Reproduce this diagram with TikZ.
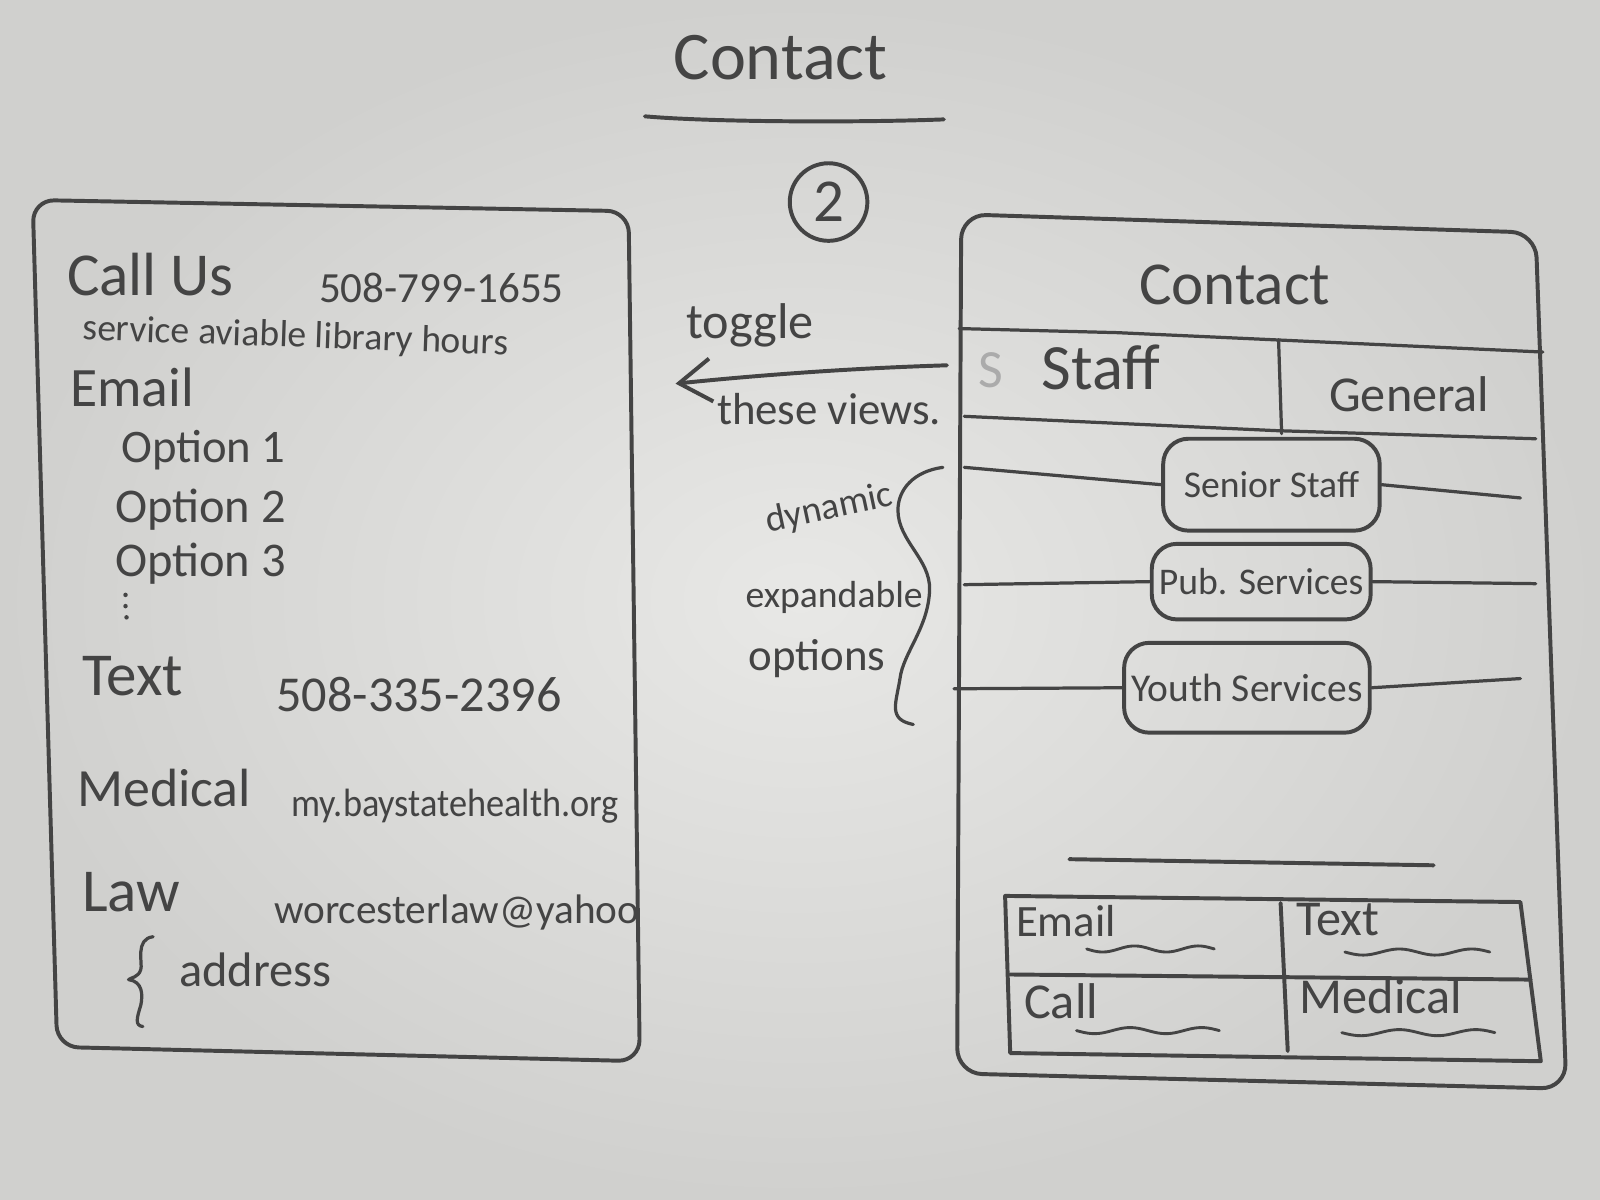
\documentclass[tikz,border=0pt]{standalone}
\usepackage{fontspec}
\setmainfont{Carlito}
\usetikzlibrary{arrows.meta}
\definecolor{penc}{HTML}{444444}
\definecolor{paperlight}{HTML}{E8E8E6}
\definecolor{paperdark}{HTML}{D0D0CE}
\definecolor{faint}{HTML}{ABABAB}
\newcommand\fs[1]{\fontsize{#1}{#1}\selectfont}
\tikzset{
  pen/.style={draw=penc, line width=1.1pt, line cap=round, line join=round},
  hw/.style={text=penc, inner sep=0pt, anchor=base west},
  pill/.style={pen, rounded corners=7pt, minimum height=0.8cm, inner sep=2pt, text=penc, font=\fs{10.5}},
}
\begin{document}
\begin{tikzpicture}[x=0.01cm,y=-0.01cm]
\useasboundingbox (0,0) rectangle (1568,1176);
\shade[inner color=paperlight, outer color=paperdark] (0,0) rectangle (1568,1176);

% title
\node[hw, anchor=base] (title) at (765,78) {\fs{19}Contact};
\coordinate (ul1) at (632,114);
\coordinate (ul2) at (925,117);
\draw[pen] (ul1) .. controls (700,120) and (850,120) .. (ul2);
\node[pen, circle, minimum size=0.76cm, inner sep=0pt, text=penc, font=\fs{17}] (num) at (812,198) {2};

% left phone
\draw[pen, rounded corners=6pt] (32,196) -- (616,207) -- (627,1040) -- (56,1026) -- cycle;
\node[hw] (callus) at (65,290) {\fs{17}Call Us};
\node[hw] (phone1) at (312,296) {\fs{12}508-799-1655};
\node[hw, rotate=-2] (service) at (80,333) {\fs{10.5}service aviable library hours};
\node[hw] (email) at (68,398) {\fs{15.5}Email};
\node[hw] (opt1) at (118,453) {\fs{13}Option 1};
\node[hw] (opt2) at (112,512) {\fs{13.5}Option 2};
\node[hw] (opt3) at (112,565) {\fs{13.5}Option 3};
\fill[penc] (123,583) circle (2.2) (123,594) circle (2.2) (124,605) circle (2.2);
\node[hw] (text) at (80,682) {\fs{17}Text};
\node[hw] (phone2) at (270,697) {\fs{14}508-335-2396};
\node[hw] (medical) at (75,790) {\fs{15}Medical};
\node[hw] (medurl) at (285,800) {\fs{11}\scalebox{0.92}[1]{my.baystatehealth.org}};
\node[hw] (law) at (80,893) {\fs{17}Law};
\node[hw] (lawmail) at (268,905) {\fs{11.5}worcesterlaw@yahoo};
\node[hw] (address) at (175,967) {\fs{13.5}address};
\draw[pen, line width=0.9pt] (150,918) .. controls (132,920) and (140,945) .. (138,950)
  .. controls (136,958) and (128,958) .. (126,960)
  .. controls (140,962) and (140,975) .. (138,985)
  .. controls (134,998) and (132,1005) .. (140,1006);

% middle annotations
\node[hw] (toggle) at (672,332) {\fs{14}toggle};
\coordinate (arrS) at (928,358);
\coordinate (arrE) at (662,376);
\draw[pen, -{Straight Barb[length=9pt, width=12pt]}] (arrS) .. controls (830,361) and (740,368) .. (arrE);
\node[hw] (views) at (702,416) {\fs{12.5}these views.};
\node[hw, rotate=12] (dyn) at (752,522) {\fs{10.5}dynamic};
\node[hw] (expand) at (730,595) {\fs{10.5}expandable};
\node[hw] (opts) at (733,657) {\fs{12.5}options};
\draw[pen, line width=0.9pt] (924,458) .. controls (895,462) and (880,480) .. (880,500)
  .. controls (880,530) and (912,548) .. (911,578)
  .. controls (910,615) and (885,640) .. (882,665)
  .. controls (878,690) and (870,705) .. (895,710);

% right phone
\draw[pen, rounded corners=7pt] (942,210) -- (1505,228) -- (1535,1067) -- (938,1052) -- cycle;
\node[hw, anchor=base] (rtitle) at (1210,298) {\fs{17}Contact};
\draw[pen, line width=0.9pt] (940,322) -- (1095,326) -- (1512,345);
\draw[pen, line width=0.9pt] (945,408) -- (1250,422) -- (1505,430);
\draw[pen, line width=0.9pt] (1253,333) -- (1256,425);
\node[hw, text=faint] (sfaint) at (958,380) {\fs{15}S};
\node[hw] (staff) at (1020,382) {\fs{18}Staff};
\node[hw] (general) at (1302,403) {\fs{14}General};

\node[pill, minimum width=2.12cm, minimum height=0.9cm] (senior) at (1246,475) {Senior Staff};
\node[pill, minimum width=2.13cm, minimum height=0.74cm] (pub) at (1236,570) {Pub. Services};
\node[pill, minimum width=2.23cm, minimum height=0.88cm, font=\fs{11}] (youth) at (1222,674) {Youth Services};
\coordinate (sl) at (945,458);
\coordinate (sr) at (1490,488);
\coordinate (pl) at (945,573);
\coordinate (pr) at (1505,572);
\coordinate (yl) at (935,675);
\coordinate (yr) at (1490,665);
\draw[pen, line width=0.9pt] (sl) -- (senior.west);
\draw[pen, line width=0.9pt] (senior.east) -- (sr);
\draw[pen, line width=0.9pt] (pl) -- (pub.west);
\draw[pen, line width=0.9pt] (pub.east) -- (pr);
\draw[pen, line width=0.9pt] (yl) -- (youth.west);
\draw[pen, line width=0.9pt] (youth.east) -- (yr);

\draw[pen] (1048,842) -- (1405,848);

% bottom table
\draw[pen] (985,878) -- (1490,884) -- (1510,1040) -- (990,1032) -- cycle;
\draw[pen] (990,955) -- (1500,960);
\draw[pen] (1255,885) -- (1262,1030);
\node[hw] (temail) at (995,918) {\fs{12.5}Email};
\node[hw] (ttext) at (1270,917) {\fs{14}Text};
\node[hw] (tcall) at (1003,998) {\fs{14}Call};
\node[hw] (tmed) at (1273,993) {\fs{14}Medical};
\draw[pen, line width=0.8pt] plot[domain=0:1, samples=40] ({1065+125*\x},{930+3*sin(\x*720)});
\draw[pen, line width=0.8pt] plot[domain=0:1, samples=40] ({1318+142*\x},{933+3*sin(\x*720)});
\draw[pen, line width=0.8pt] plot[domain=0:1, samples=40] ({1055+140*\x},{1010+3*sin(\x*720)});
\draw[pen, line width=0.8pt] plot[domain=0:1, samples=40] ({1315+150*\x},{1012+3*sin(\x*720)});
\end{tikzpicture}
\end{document}
